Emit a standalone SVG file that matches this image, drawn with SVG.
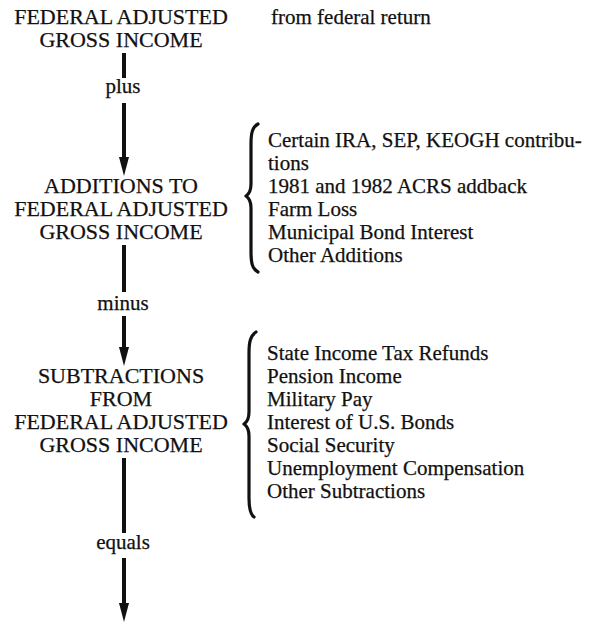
<svg xmlns="http://www.w3.org/2000/svg" width="599" height="626" viewBox="0 0 599 626">
<style>
text{font-family:"Liberation Serif","Times New Roman",serif;font-size:21px;fill:#111;stroke:#111;stroke-width:0.25}
.c{text-anchor:middle;font-size:22px}
.w{text-anchor:middle}
.ln{stroke:#111;stroke-width:4;fill:none}
.br{stroke:#111;stroke-width:3.2;fill:none;stroke-linecap:round;stroke-linejoin:round}
.ah{fill:#111}
</style>
<rect width="599" height="626" fill="#fff"/>
<g id="connectors">
<line class="ln" x1="124" y1="53" x2="124" y2="78"/>
<line class="ln" x1="124" y1="103" x2="124" y2="160"/>
<polygon class="ah" points="119,157 129,157 124,176"/>
<line class="ln" x1="124" y1="245" x2="124" y2="292"/>
<line class="ln" x1="124" y1="316" x2="124" y2="350"/>
<polygon class="ah" points="119,347 129,347 124,366"/>
<line class="ln" x1="124" y1="458" x2="124" y2="533"/>
<line class="ln" x1="124" y1="558" x2="124" y2="606"/>
<polygon class="ah" points="119,603 129,603 124,622"/>
</g>
<g id="n-fagi">
<text class="c" x="121" y="24">FEDERAL ADJUSTED</text>
<text class="c" x="121" y="47">GROSS INCOME</text>
<text x="271" y="24">from federal return</text>
</g>
<g id="l-plus"><text class="w" x="123" y="93">plus</text></g>
<g id="n-additions">
<text class="c" x="121" y="193">ADDITIONS TO</text>
<text class="c" x="121" y="216">FEDERAL ADJUSTED</text>
<text class="c" x="121" y="239">GROSS INCOME</text>
</g>
<g id="list-additions">
<path class="br" d="M258 124 C252 127,251 134,251 144 L251 184 C251 190,249 194,246 196 C249 198,251 202,251 208 L251 252 C251 262,252 269,258 272"/>
<text x="268" y="147">Certain IRA, SEP, KEOGH contribu-</text>
<text x="268" y="170">tions</text>
<text x="268" y="193">1981 and 1982 ACRS addback</text>
<text x="268" y="216">Farm Loss</text>
<text x="268" y="239">Municipal Bond Interest</text>
<text x="268" y="262">Other Additions</text>
</g>
<g id="l-minus"><text class="w" x="123" y="310">minus</text></g>
<g id="n-subtractions">
<text class="c" x="121" y="383">SUBTRACTIONS</text>
<text class="c" x="121" y="406">FROM</text>
<text class="c" x="121" y="429">FEDERAL ADJUSTED</text>
<text class="c" x="121" y="452">GROSS INCOME</text>
</g>
<g id="list-subtractions">
<path class="br" d="M256 332 C250 336,249 343,249 353 L249 412 C249 418,247 422,244 424 C247 426,249 430,249 436 L249 498 C249 508,250 514,254 517"/>
<text x="267" y="360">State Income Tax Refunds</text>
<text x="267" y="383">Pension Income</text>
<text x="267" y="406">Military Pay</text>
<text x="267" y="429">Interest of U.S. Bonds</text>
<text x="267" y="452">Social Security</text>
<text x="267" y="475">Unemployment Compensation</text>
<text x="267" y="498">Other Subtractions</text>
</g>
<g id="l-equals"><text class="w" x="123" y="549">equals</text></g>
</svg>
